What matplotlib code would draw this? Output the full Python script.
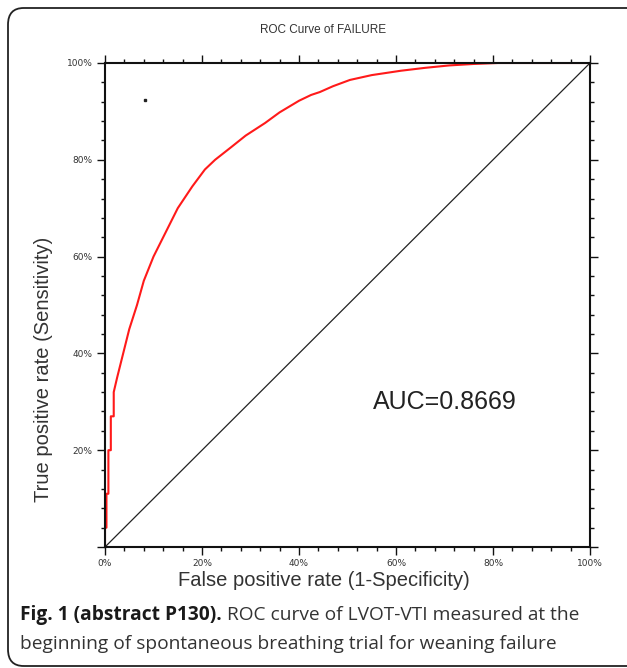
import matplotlib
matplotlib.use("Agg")
import matplotlib.pyplot as plt
from matplotlib.patches import FancyBboxPatch
from matplotlib.ticker import MultipleLocator, FuncFormatter

# ROC curve points (false positive rate, true positive rate)
fpr = [0.0, 0.0, 0.003, 0.003, 0.007, 0.007, 0.012, 0.012, 0.018, 0.018, 0.025,
       0.03, 0.04, 0.05, 0.066, 0.08, 0.1, 0.125, 0.15, 0.18, 0.206, 0.227,
       0.26, 0.29, 0.33, 0.36, 0.40, 0.425, 0.443, 0.47, 0.505, 0.55, 0.61,
       0.66, 0.71, 0.76, 0.81, 1.0]
tpr = [0.0, 0.04, 0.04, 0.11, 0.11, 0.2, 0.2, 0.27, 0.27, 0.32, 0.35,
       0.37, 0.41, 0.45, 0.5, 0.55, 0.6, 0.65, 0.7, 0.745, 0.78, 0.8,
       0.826, 0.85, 0.876, 0.898, 0.922, 0.934, 0.94, 0.952, 0.965, 0.975, 0.984,
       0.99, 0.995, 0.998, 1.0, 1.0]
ref_x = [0.0, 1.0]
ref_y = [0.0, 1.0]
dot_x = [0.082]
dot_y = [0.923]
auc_text = "AUC=0.8669"
title = "ROC Curve of FAILURE"
xlabel = "False positive rate (1-Specificity)"
ylabel = "True positive rate (Sensitivity)"
cap_bold = "Fig. 1 (abstract P130)."
cap_rest1 = " ROC curve of LVOT-VTI measured at the"
cap_line2 = "beginning of spontaneous breathing trial for weaning failure"

fig = plt.figure(figsize=(6.27, 6.68), dpi=100)

# rounded frame around the figure (right side cut off like the reference)
frame = FancyBboxPatch((8 / 627, 2 / 668), 1.2, 658 / 668,
                       boxstyle="round,pad=0,rounding_size=0.025",
                       transform=fig.transFigure, fill=False,
                       edgecolor="#222222", linewidth=1.3)
fig.patches.append(frame)

ax = fig.add_axes([105 / 627, 1 - 547 / 668, 485 / 627, 484 / 668])
ax.plot(ref_x, ref_y, color="#222222", linewidth=0.9)
ax.plot(fpr, tpr, color="#ff1a1a", linewidth=1.5)
ax.plot(dot_x, dot_y, marker="s", markersize=2, color="#222222", linestyle="none")
ax.set_xlim(0, 1)
ax.set_ylim(0, 1)

ax.xaxis.set_major_locator(MultipleLocator(0.2))
ax.xaxis.set_minor_locator(MultipleLocator(0.04))
ax.yaxis.set_major_locator(MultipleLocator(0.2))
ax.yaxis.set_minor_locator(MultipleLocator(0.04))
ax.xaxis.set_major_formatter(FuncFormatter(lambda v, p: f"{int(round(v * 100))}%"))
ax.yaxis.set_major_formatter(FuncFormatter(lambda v, p: "" if v == 0 else f"{int(round(v * 100))}%"))
ax.tick_params(which="both", direction="out", top=True, right=True,
               width=1.0, color="#111111", labelsize=6.5, labelcolor="#333333")
ax.tick_params(which="major", length=6, pad=3)
ax.tick_params(which="minor", length=3)
for s in ax.spines.values():
    s.set_linewidth(1.5)
    s.set_color("#111111")

ax.text(0.552, 0.3, auc_text, transform=ax.transAxes, fontsize=18,
        family="Liberation Sans", color="#222222", va="center", ha="left")

fig.text(323 / 627, 1 - 30 / 668, title, ha="center", va="center",
         fontsize=8.5, family="Liberation Sans", color="#333333")
fig.text(324 / 627, 1 - 581 / 668, xlabel, ha="center", va="center",
         fontsize=14.5, family="Liberation Sans", color="#333333")
fig.text(44 / 627, 1 - 369 / 668, ylabel, ha="center", va="center", rotation=90,
         fontsize=14.5, family="Liberation Sans", color="#333333")

# caption: bold part followed by normal text
t1 = fig.text(20 / 627, 1 - 615 / 668, cap_bold, ha="left", va="center",
              fontsize=13.8, family="Open Sans", fontweight="bold", color="#1a1a1a")
fig.canvas.draw()
bb = t1.get_window_extent().transformed(fig.transFigure.inverted())
fig.text(bb.x1, 1 - 615 / 668, cap_rest1, ha="left", va="center",
         fontsize=13.8, family="Open Sans", color="#333333")
fig.text(20 / 627, 1 - 644 / 668, cap_line2, ha="left", va="center",
         fontsize=13.8, family="Open Sans", color="#333333")

fig.savefig("out.png", dpi=100)
